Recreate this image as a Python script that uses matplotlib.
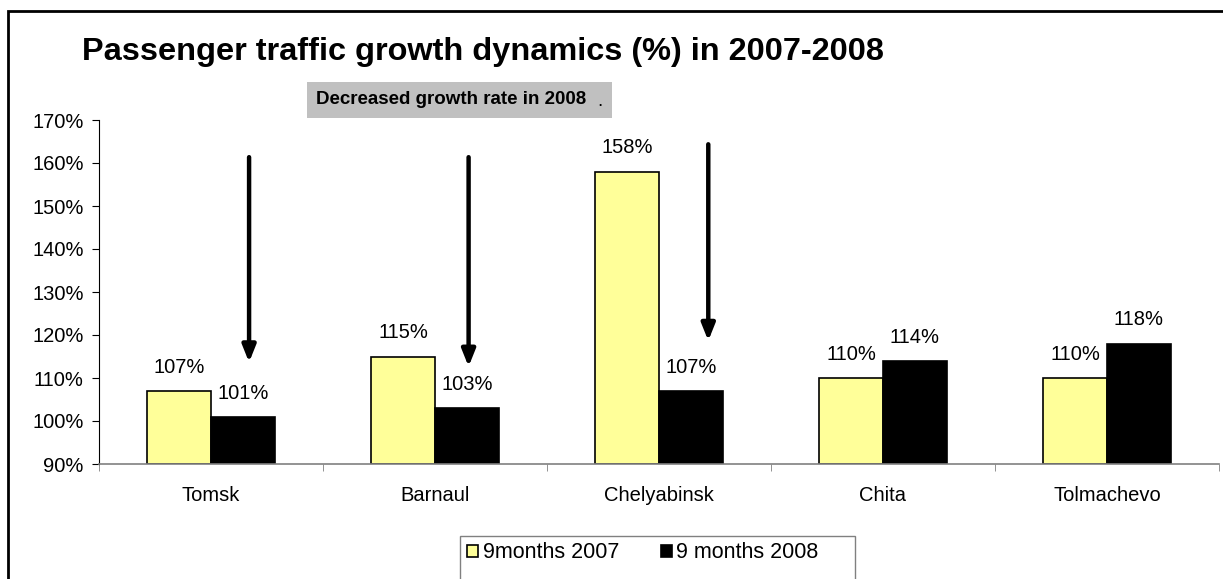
import matplotlib.pyplot as plt
import numpy as np
from matplotlib.patches import Rectangle

plt.rcParams['font.family'] = ['Liberation Sans', 'DejaVu Sans']

# data
airports = ['Tomsk', 'Barnaul', 'Chelyabinsk', 'Chita', 'Tolmachevo']
growth_2007 = [107, 115, 158, 110, 110]
growth_2008 = [101, 103, 107, 114, 118]
series_names = ['9months 2007', '9 months 2008']
yticks = [90, 100, 110, 120, 130, 140, 150, 160, 170]

# arrows showing decline: (category index, x offset, start, end)
arrows = [(0, 0.17, 162, 113), (1, 0.15, 162, 112), (2, 0.22, 165, 118)]

fs = 14.5
fig = plt.figure(figsize=(12.23, 5.79), dpi=100)
ax = fig.add_axes([99 / 1223, 1 - 464 / 579, 1120 / 1223, 344 / 579])

x = np.arange(len(airports))
w = 0.285
ax.bar(x - w / 2, np.array(growth_2007) - 90, w, bottom=90,
       color='#ffff99', edgecolor='black', linewidth=1.2, label=series_names[0])
ax.bar(x + w / 2, np.array(growth_2008) - 90, w, bottom=90,
       color='black', edgecolor='black', linewidth=1.2, label=series_names[1])

for xi, v in zip(x - w / 2, growth_2007):
    ax.text(xi, v + 3.3, f'{v}%', ha='center', va='bottom', fontsize=fs)
for xi, v in zip(x + w / 2, growth_2008):
    ax.text(xi, v + 3.3, f'{v}%', ha='center', va='bottom', fontsize=fs)

for i, dx, y0, y1 in arrows:
    ax.annotate('', xy=(i + dx, y1), xytext=(i + dx, y0),
                arrowprops=dict(arrowstyle='-|>,head_width=0.4,head_length=1.0',
                                color='black', lw=3.2))

ax.set_xlim(-0.5, len(airports) - 0.5)
ax.set_ylim(90, 170)
ax.set_yticks(yticks)
ax.set_yticklabels([f'{t}%' for t in yticks], fontsize=fs)
ax.set_xticks(x)
ax.set_xticklabels(airports, fontsize=fs)
ax.tick_params(axis='x', length=0, pad=16)
ax.set_xticks(np.arange(-0.5, len(airports)), minor=True)
ax.tick_params(axis='x', which='minor', length=5, color='#808080')
ax.tick_params(axis='y', length=5, pad=6)
ax.spines['top'].set_visible(False)
ax.spines['right'].set_visible(False)
ax.spines['bottom'].set_color('#808080')
ax.spines['bottom'].set_linewidth(1.2)

fig.text(82 / 1223, 1 - 52 / 579, 'Passenger traffic growth dynamics (%) in 2007-2008',
         fontsize=23.4, fontweight='bold', va='center')
fig.patches.append(Rectangle((307 / 1223, 1 - 118 / 579), 305 / 1223, 36 / 579,
                             transform=fig.transFigure, facecolor='#c0c0c0',
                             edgecolor='none'))
fig.text(316 / 1223, 1 - 100 / 579, 'Decreased growth rate in 2008', fontsize=13.5,
         fontweight='bold', va='center')
fig.text(597 / 1223, 1 - 102 / 579, '.', fontsize=13.5, va='center')

# outer frame (cut at the right and bottom as in the source)
fig.patches.append(Rectangle((8 / 1223, -0.1), 1.2, 1 - 11 / 579 + 0.1,
                             transform=fig.transFigure, facecolor='none',
                             edgecolor='black', linewidth=2))

# legend with a frame that runs off the bottom edge
fig.patches.append(Rectangle((460 / 1223, -0.1), 395 / 1223, 43 / 579 + 0.1,
                             transform=fig.transFigure, facecolor='white',
                             edgecolor='#808080', linewidth=1))
fig.legend(loc='upper left', bbox_to_anchor=(461 / 1223, 43 / 579),
           ncol=2, fontsize=15.5, frameon=False,
           handlelength=0.5, handleheight=0.5, handletextpad=0.2, columnspacing=1.95,
           borderaxespad=0, borderpad=0.3)

fig.savefig('out.png', dpi=100)
